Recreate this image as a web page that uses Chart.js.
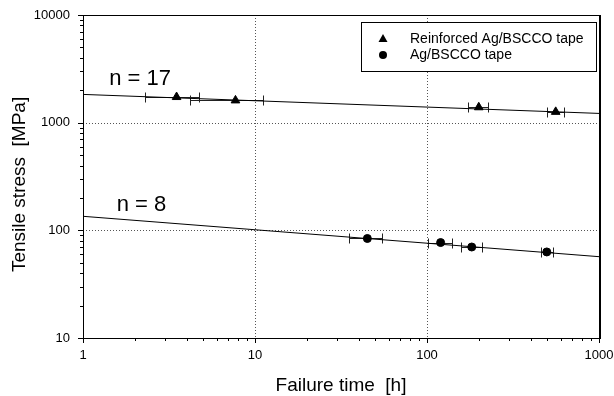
<!DOCTYPE html>
<html>
<head>
<meta charset="utf-8">
<script src="https://cdn.jsdelivr.net/npm/chart.js@4.4.1/dist/chart.umd.min.js"></script>
<style>
  html, body { margin: 0; padding: 0; background: #fff; }
  canvas { display: block; }
</style>
</head>
<body>
<canvas id="chart" width="614" height="396"></canvas>
<script>
// Reinforced Ag/BSCCO tape: failure time [h], stress [MPa], time scatter range
const reinforcedTime   = [3.5, 7.7, 200, 560];
const reinforcedStress = [1730, 1610, 1390, 1260];
const reinforcedTimeLo = [2.3, 4.2, 174, 497];
const reinforcedTimeHi = [4.7, 11.2, 227, 629];

// Ag/BSCCO tape
const tapeTime   = [45, 120, 182, 497];
const tapeStress = [84, 77, 70, 63];
const tapeTimeLo = [35, 102, 158, 460];
const tapeTimeHi = [55, 140, 210, 542];

// Power-law fits  stress = A * t^(-1/n)
const fitExponents  = [17, 8];
const fitStressAt1h = [1830, 135];
const fitTimeRange  = [1, 1000];

const seriesLabels = ['Reinforced Ag/BSCCO tape', 'Ag/BSCCO tape'];
const fitLabels    = fitExponents.map(n => 'n = ' + n);
const xTickLabels  = ['1', '10', '100', '1000'];
const yTickLabels  = ['10', '100', '1000', '10000'];

const FONT = '"Liberation Sans", Arial, Helvetica, sans-serif';

const fitData = (A, n) => fitTimeRange.map(t => ({ x: t, y: A * Math.pow(t, -1 / n) }));
const pts = (xs, ys) => xs.map((x, i) => ({ x, y: ys[i] }));

// 1..9 per decade, so minor tick marks land on clean values
function decadeTicks(scale) {
  const lo = Math.round(Math.log10(scale.min));
  const hi = Math.round(Math.log10(scale.max));
  const ticks = [];
  for (let e = lo; e < hi; e++) {
    for (let d = 1; d <= 9; d++) ticks.push({ value: d * Math.pow(10, e) });
  }
  ticks.push({ value: Math.pow(10, hi) });
  scale.ticks = ticks;
}
const isDecade = v => Math.abs(Math.log10(v) - Math.round(Math.log10(v))) < 1e-9;
const labelFrom = list => v => (isDecade(v) && list.includes(String(Math.round(v)))) ? String(Math.round(v)) : '';

// Error bars along the time axis
const errorBars = {
  id: 'errorBars',
  beforeDatasetsDraw(chart) {
    const { ctx, scales: { x, y } } = chart;
    const groups = [
      [reinforcedStress, reinforcedTimeLo, reinforcedTimeHi],
      [tapeStress, tapeTimeLo, tapeTimeHi]
    ];
    ctx.save();
    ctx.strokeStyle = '#222';
    ctx.lineWidth = 1;
    groups.forEach(([ys, lo, hi]) => {
      ys.forEach((v, i) => {
        const py = Math.round(y.getPixelForValue(v)) + 0.5;
        const x1 = Math.round(x.getPixelForValue(lo[i])) + 0.5;
        const x2 = Math.round(x.getPixelForValue(hi[i])) + 0.5;
        ctx.beginPath();
        ctx.moveTo(x1, py); ctx.lineTo(x2, py);
        ctx.moveTo(x1, py - 5); ctx.lineTo(x1, py + 5);
        ctx.moveTo(x2, py - 5); ctx.lineTo(x2, py + 5);
        ctx.stroke();
      });
    });
    ctx.restore();
  }
};

// Dotted decade grid, frame and outward tick marks
const frame = {
  id: 'frame',
  beforeDatasetsDraw(chart) {
    const { ctx, chartArea: a, scales: { x, y } } = chart;
    ctx.save();
    ctx.strokeStyle = '#555';
    ctx.lineWidth = 1;
    ctx.setLineDash([1, 2]);
    x.ticks.forEach(t => {
      if (!isDecade(t.value) || t.value === x.min || t.value === x.max) return;
      const px = Math.round(x.getPixelForValue(t.value)) + 0.5;
      ctx.beginPath(); ctx.moveTo(px, a.top); ctx.lineTo(px, a.bottom); ctx.stroke();
    });
    y.ticks.forEach(t => {
      if (!isDecade(t.value) || t.value === y.min || t.value === y.max) return;
      const py = Math.round(y.getPixelForValue(t.value)) + 0.5;
      ctx.beginPath(); ctx.moveTo(a.left, py); ctx.lineTo(a.right, py); ctx.stroke();
    });
    ctx.restore();
  },
  afterDatasetsDraw(chart) {
    const { ctx, chartArea: a, scales: { x, y } } = chart;
    ctx.save();
    ctx.strokeStyle = '#000';
    ctx.lineWidth = 1;
    ctx.strokeRect(Math.round(a.left) + 0.5, Math.round(a.top) + 0.5,
                   Math.round(a.right - a.left), Math.round(a.bottom - a.top));
    // slightly heavier right edge
    ctx.beginPath();
    ctx.moveTo(Math.round(a.right) + 1.5, a.top); ctx.lineTo(Math.round(a.right) + 1.5, a.bottom + 1);
    ctx.stroke();
    ctx.beginPath();
    x.ticks.forEach(t => {
      const px = Math.round(x.getPixelForValue(t.value)) + 0.5;
      const len = isDecade(t.value) ? 5 : 3;
      ctx.moveTo(px, a.bottom); ctx.lineTo(px, a.bottom + len);
    });
    y.ticks.forEach(t => {
      const py = Math.round(y.getPixelForValue(t.value)) + 0.5;
      const len = isDecade(t.value) ? 5 : 3;
      ctx.moveTo(a.left, py); ctx.lineTo(a.left - len, py);
    });
    ctx.stroke();
    ctx.restore();
  }
};

// Boxed legend in the upper right and the fit exponent labels
const annotations = {
  id: 'annotations',
  afterDraw(chart, args, opts) {
    const { ctx, chartArea: a, scales: { x, y } } = chart;
    ctx.save();
    // legend
    const bx = a.right - 238, by = a.top + 7, bw = 235, bh = 49;
    ctx.fillStyle = '#fff';
    ctx.fillRect(bx, by, bw, bh);
    ctx.strokeStyle = '#000';
    ctx.lineWidth = 1;
    ctx.strokeRect(Math.round(bx) + 0.5, Math.round(by) + 0.5, bw, bh);
    const styles = ['triangle', 'circle'];
    seriesLabels.forEach((lab, i) => {
      const cy = by + 17 + i * 16;
      const cx = bx + 22;
      ctx.fillStyle = '#000';
      ctx.beginPath();
      if (styles[i] === 'triangle') {
        ctx.moveTo(cx, cy - 5); ctx.lineTo(cx + 4.5, cy + 3); ctx.lineTo(cx - 4.5, cy + 3); ctx.closePath();
      } else {
        ctx.arc(cx, cy, 4, 0, Math.PI * 2);
      }
      ctx.fill();
      ctx.font = '14px ' + FONT;
      ctx.textBaseline = 'middle';
      ctx.textAlign = 'left';
      ctx.fillText(lab, bx + 49, cy);
    });
    // exponent labels
    ctx.font = '22px ' + FONT;
    ctx.textBaseline = 'middle';
    ctx.textAlign = 'left';
    ctx.fillStyle = '#000';
    opts.labels.forEach(l => {
      ctx.fillText(l.text, x.getPixelForValue(l.x), y.getPixelForValue(l.y));
    });
    ctx.restore();
  }
};

new Chart(document.getElementById('chart'), {
  type: 'scatter',
  data: {
    datasets: [
      { label: fitLabels[0], data: fitData(fitStressAt1h[0], fitExponents[0]), showLine: true,
        borderColor: '#000', borderWidth: 1, pointRadius: 0 },
      { label: fitLabels[1], data: fitData(fitStressAt1h[1], fitExponents[1]), showLine: true,
        borderColor: '#000', borderWidth: 1, pointRadius: 0 },
      { label: seriesLabels[0], data: pts(reinforcedTime, reinforcedStress), pointStyle: 'triangle',
        pointRadius: 5, backgroundColor: '#000', borderColor: '#000', borderWidth: 1 },
      { label: seriesLabels[1], data: pts(tapeTime, tapeStress), pointStyle: 'circle',
        pointRadius: 4, backgroundColor: '#000', borderColor: '#000', borderWidth: 1 }
    ]
  },
  options: {
    responsive: false,
    animation: false,
    devicePixelRatio: 1,
    layout: { padding: { top: 15, right: 15, left: 0, bottom: 0 } },
    plugins: {
      legend: { display: false },
      tooltip: { enabled: false },
      annotations: {
        labels: [
          { text: fitLabels[0], x: 1.42, y: 2540 },
          { text: fitLabels[1], x: 1.57, y: 172 }
        ]
      }
    },
    scales: {
      x: {
        type: 'logarithmic', position: 'bottom', min: 1, max: 1000,
        afterBuildTicks: decadeTicks,
        afterFit: s => { s.height = 58; s.paddingLeft = 0; s.paddingRight = 0; },
        grid: { display: false, drawTicks: false },
        border: { display: false },
        ticks: { autoSkip: false, maxRotation: 0, padding: 10, color: '#000',
                 font: { family: FONT, size: 13 }, callback: labelFrom(xTickLabels) },
        title: { display: true, text: 'Failure time  [h]', color: '#000',
                 font: { family: FONT, size: 19, lineHeight: 1 }, padding: { top: 0, bottom: 1 } }
      },
      y: {
        type: 'logarithmic', position: 'left', min: 10, max: 10000,
        afterBuildTicks: decadeTicks,
        afterFit: s => { s.width = 83; s.paddingTop = 0; s.paddingBottom = 0; },
        grid: { display: false, drawTicks: false },
        border: { display: false },
        ticks: { autoSkip: false, padding: 13, color: '#000',
                 font: { family: FONT, size: 13 }, callback: labelFrom(yTickLabels) },
        title: { display: true, text: 'Tensile stress  [MPa]   ', color: '#000',
                 font: { family: FONT, size: 19, lineHeight: 1 }, padding: { top: 10, bottom: 0 } }
      }
    }
  },
  plugins: [errorBars, frame, annotations]
});
</script>
</body>
</html>
